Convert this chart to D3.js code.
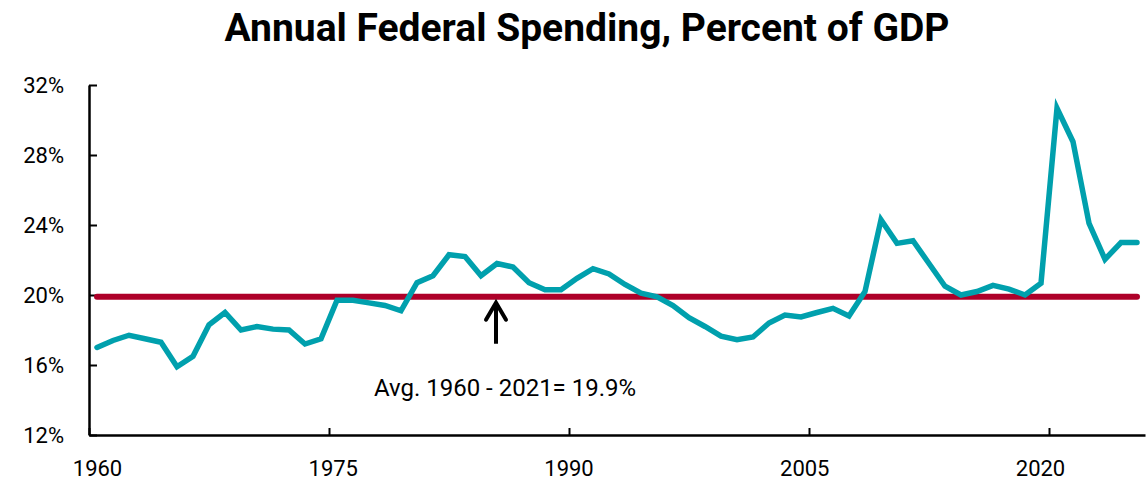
<!DOCTYPE html>
<html>
<head>
<meta charset="utf-8">
<script src="https://cdn.jsdelivr.net/npm/d3@7"></script>
<style>
  html, body { margin: 0; padding: 0; background: #fff; }
  svg { display: block; }
  text { font-family: Roboto, "Liberation Sans", sans-serif; }
</style>
</head>
<body>
<svg id="chart" width="1148" height="481"></svg>
<script>
// ---- data ----
const years = d3.range(1960, 2026);
const spending = [
  17.0, 17.4, 17.7, 17.5, 17.3, 15.9, 16.5, 18.3, 19.0, 18.0,
  18.2, 18.05, 18.0, 17.2, 17.5, 19.7, 19.7, 19.55, 19.4, 19.1,
  20.7, 21.1, 22.3, 22.2, 21.1, 21.8, 21.6, 20.7, 20.3, 20.3,
  20.95, 21.5, 21.2, 20.6, 20.1, 19.9, 19.4, 18.7, 18.2, 17.65,
  17.45, 17.6, 18.4, 18.85, 18.75, 19.0, 19.24, 18.8, 20.2, 24.3,
  22.95, 23.1, 21.8, 20.5, 20.0, 20.2, 20.55, 20.34, 20.0, 20.67,
  30.67, 28.76, 24.1, 22.04, 23.0, 23.0
];
const average = 19.9;
const xTickLabels = [1960, 1975, 1990, 2005, 2020];
const yTicks = [12, 16, 20, 24, 28, 32];
const title = "Annual Federal Spending, Percent of GDP";
const annotation = "Avg. 1960 - 2021= 19.9%";
const arrowYear = 1985;

// ---- layout ----
const svg = d3.select("#chart");
const teal = "#00a0ad";
const crimson = "#ae0029";

const x = d3.scaleLinear().domain([1959.5, 2025.5]).range([89, 1145]);
const xLab = d3.scaleLinear().domain([1960, 2020]).range([97, 1040]);
const y = d3.scaleLinear().domain([12, 32]).range([435, 85]);

// title
svg.append("text")
  .attr("x", 587).attr("y", 41)
  .attr("text-anchor", "middle")
  .attr("font-size", 39).attr("font-weight", 700)
  .attr("fill", "#000")
  .text(title);

// y axis
const yAxis = svg.append("g")
  .attr("transform", `translate(${x(1959.5)},0)`)
  .call(d3.axisLeft(y).tickValues(yTicks).tickSize(-8).tickSizeOuter(0).tickPadding(25)
        .tickFormat(d => d + "%"));
yAxis.select(".domain").attr("stroke", "#000").attr("stroke-width", 2.5);
yAxis.selectAll(".tick line").attr("stroke", "#000").attr("stroke-width", 2);
yAxis.selectAll(".tick text").attr("font-size", 22).attr("fill", "#000")
  .style("font-family", "Roboto, sans-serif");

// x axis (line + ticks between categories)
const xAxis = svg.append("g")
  .attr("transform", `translate(0,${y(12)})`)
  .call(d3.axisBottom(x).tickValues(xTickLabels.map(v => v - 0.5)).tickSize(-7).tickSizeOuter(0)
        .tickFormat(""));
xAxis.select(".domain").attr("stroke", "#000").attr("stroke-width", 2.5);
xAxis.selectAll(".tick line").attr("stroke", "#000").attr("stroke-width", 2);

// x labels
const xLabels = svg.append("g")
  .attr("transform", `translate(0,${y(12)})`)
  .call(d3.axisBottom(xLab).tickValues(xTickLabels).tickSize(0).tickPadding(25)
        .tickFormat(d3.format("d")));
xLabels.select(".domain").remove();
xLabels.selectAll(".tick text").attr("font-size", 22).attr("fill", "#000")
  .style("font-family", "Roboto, sans-serif");

// average line
svg.append("path")
  .datum([years[0], years[years.length - 1]])
  .attr("d", d3.line().x(d => x(d)).y(() => y(average)))
  .attr("fill", "none")
  .attr("stroke", crimson)
  .attr("stroke-width", 6)
  .attr("stroke-linecap", "round");

// spending line
svg.append("path")
  .datum(years.map((yr, i) => [yr, spending[i]]))
  .attr("d", d3.line().x(d => x(d[0])).y(d => y(d[1])))
  .attr("fill", "none")
  .attr("stroke", teal)
  .attr("stroke-width", 5.5)
  .attr("stroke-linejoin", "miter")
  .attr("stroke-linecap", "round");

// arrow
const ax = x(arrowYear) - 1;
const tipY = y(average) + 4;
svg.append("line")
  .attr("x1", ax).attr("x2", ax)
  .attr("y1", tipY + 2).attr("y2", tipY + 43)
  .attr("stroke", "#000").attr("stroke-width", 4);
svg.append("path")
  .attr("d", `M${ax - 10},${tipY + 19} L${ax},${tipY + 2} L${ax + 10},${tipY + 19}`)
  .attr("fill", "none")
  .attr("stroke", "#000").attr("stroke-width", 4)
  .attr("stroke-linecap", "round").attr("stroke-linejoin", "miter");

// annotation text
svg.append("text")
  .attr("x", ax + 9).attr("y", tipY + 95)
  .attr("text-anchor", "middle")
  .attr("font-size", 24)
  .attr("fill", "#000")
  .text(annotation);
</script>
</body>
</html>
